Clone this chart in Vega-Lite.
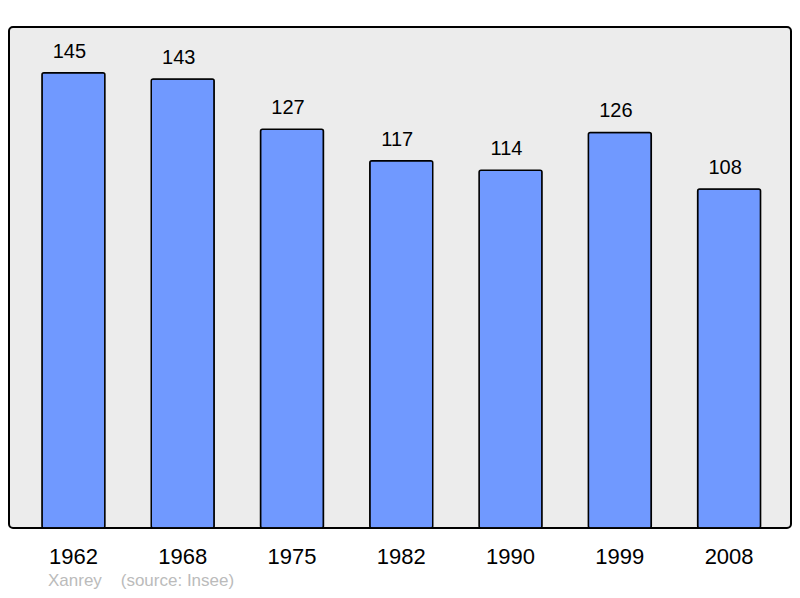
{
  "$schema": "https://vega.github.io/schema/vega-lite/v6.json",
  "autosize": {"type": "none"},
  "padding": {"left": 9, "top": 27, "right": 9, "bottom": 70},
  "width": 782,
  "height": 501,
  "background": "white",
  "data": {
    "values": [
      {"year": "1962", "pop": 145},
      {"year": "1968", "pop": 143},
      {"year": "1975", "pop": 127},
      {"year": "1982", "pop": 117},
      {"year": "1990", "pop": 114},
      {"year": "1999", "pop": 126},
      {"year": "2008", "pop": 108}
    ]
  },
  "title": {
    "text": "Xanrey\u00a0\u00a0\u00a0\u00a0(source: Insee)",
    "orient": "bottom",
    "anchor": "start",
    "dx": 39,
    "offset": 6,
    "font": "Liberation Sans",
    "fontSize": 17,
    "fontWeight": "normal",
    "color": "#bbbbbb"
  },
  "encoding": {
    "x": {
      "field": "year",
      "type": "ordinal",
      "scale": {"paddingInner": 0.424, "paddingOuter": 0.29, "align": 0.52},
      "axis": {
        "title": null,
        "domain": false,
        "ticks": false,
        "labelAngle": 0,
        "labelPadding": 18,
        "labelFont": "Liberation Sans",
        "labelFontSize": 22,
        "labelColor": "black"
      }
    },
    "y": {
      "field": "pop",
      "type": "quantitative",
      "scale": {"domain": [0, 159.6], "nice": false},
      "axis": null
    }
  },
  "layer": [
    {
      "mark": {
        "type": "bar",
        "color": "#7099ff",
        "stroke": "black",
        "strokeWidth": 1.5,
        "cornerRadius": 2
      }
    },
    {
      "mark": {
        "type": "text",
        "baseline": "alphabetic",
        "dy": -15,
        "dx": -4,
        "font": "Liberation Sans",
        "fontSize": 20,
        "color": "black"
      },
      "encoding": {"text": {"field": "pop", "type": "quantitative"}}
    }
  ],
  "config": {
    "view": {"fill": "#ececec", "stroke": "black", "strokeWidth": 2, "cornerRadius": 4}
  }
}
